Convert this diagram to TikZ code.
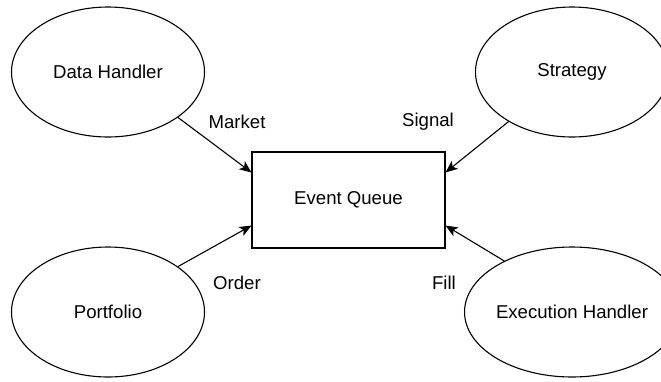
\documentclass[tikz,border=0pt]{standalone}
\usepackage{fontspec}
\setmainfont{Liberation Sans}
\usetikzlibrary{arrows.meta,calc,shapes.geometric}
\begin{document}
\begin{tikzpicture}[x=1pt,y=-1pt,
  every node/.style={font=\fontsize{18.6}{22}\selectfont},
  comp/.style={ellipse,draw,line width=1.1pt,minimum width=193pt,minimum height=130pt,inner sep=0pt},
  queue/.style={rectangle,draw,line width=1.1pt,minimum width=193pt,minimum height=96pt,inner sep=0pt},
  flow/.style={line width=1.1pt,-{Stealth[length=12pt,width=10pt,inset=3pt]}},
  lbl/.style={inner sep=0pt}]
  \useasboundingbox (0,0) rectangle (661,381);
  % components around the queue
  \node[comp] (dh) at (108,72) {Data Handler};
  \node[comp] (st) at (572,72) {Strategy};
  \node[comp] (pf) at (108,312) {Portfolio};
  \node[comp] (ex) at (572,312) {Execution Handler};
  % central event queue
  \node[queue] (eq) at (348.5,200) {Event Queue};
  % arrow end points on the queue box
  \coordinate (eqtl) at ($(eq.north west)+(0,21)$);
  \coordinate (eqbl) at ($(eq.south west)+(0,-23)$);
  \coordinate (eqtr) at ($(eq.north east)+(0,21)$);
  \coordinate (eqbr) at ($(eq.south east)+(0,-23)$);
  % event flows
  \draw[flow] (dh.-33) -- (eqtl);
  \draw[flow] (st.-142) -- (eqtr);
  \draw[flow] (pf.33) -- (eqbl);
  \draw[flow] (ex.143) -- (eqbr);
  % flow labels
  \node[lbl] (lm) at (237,122) {Market};
  \node[lbl] (ls) at (428,122) {Signal};
  \node[lbl] (lo) at (237,283) {Order};
  \node[lbl] (lf) at (444,283) {Fill};
\end{tikzpicture}
\end{document}
